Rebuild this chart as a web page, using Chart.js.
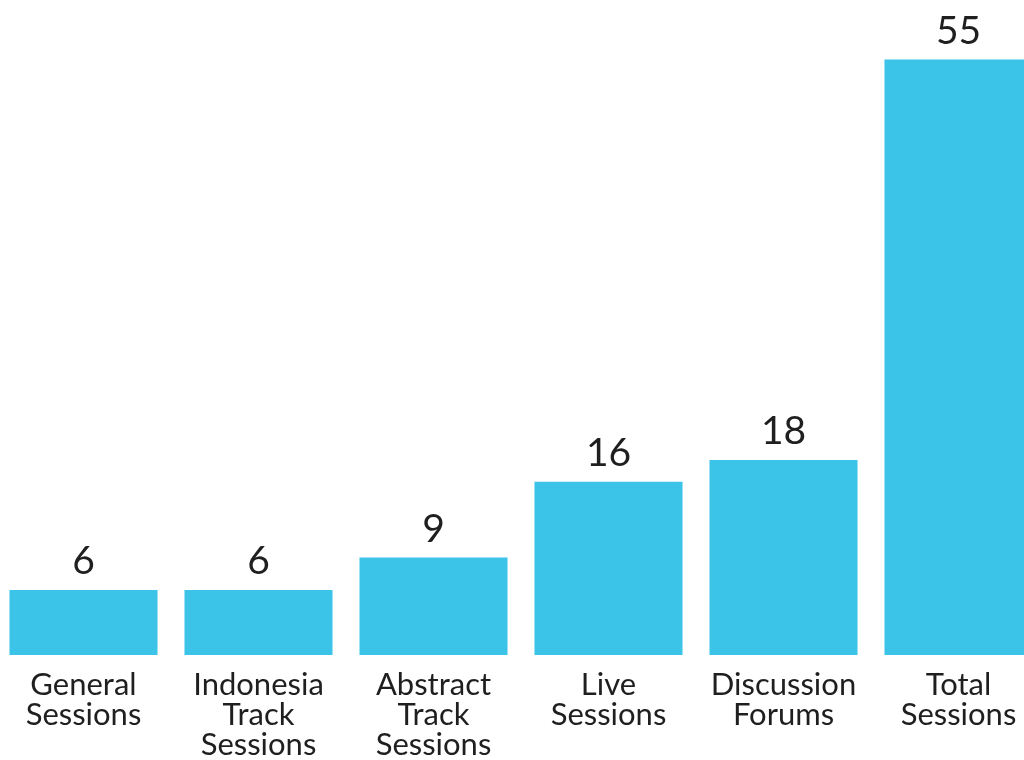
<!DOCTYPE html>
<html>
<head>
<meta charset="utf-8">
<script src="https://cdn.jsdelivr.net/npm/chart.js@4"></script>
<style>
  html, body { margin: 0; padding: 0; background: #ffffff; overflow: hidden; width: 1024px; height: 760px; }
  #wrap { position: absolute; left: -4px; top: 0; width: 1050px; height: 760px; }
</style>
</head>
<body>
<div id="wrap"><canvas id="c" width="1050" height="760"></canvas></div>
<script>
const categories = [
  ["General", "Sessions"],
  ["Indonesia", "Track", "Sessions"],
  ["Abstract", "Track", "Sessions"],
  ["Live", "Sessions"],
  ["Discussion", "Forums"],
  ["Total", "Sessions"]
];
const sessionCounts = [6, 6, 9, 16, 18, 55];

const valueLabels = {
  id: 'valueLabels',
  afterDatasetsDraw(chart) {
    const ctx = chart.ctx;
    const meta = chart.getDatasetMeta(0);
    ctx.save();
    ctx.font = '39px Lato, "Open Sans", sans-serif';
    ctx.fillStyle = '#1f1f1f';
    ctx.textAlign = 'center';
    ctx.textBaseline = 'alphabetic';
    meta.data.forEach((bar, i) => {
      ctx.fillText(String(chart.data.datasets[0].data[i]), bar.x, bar.y - 16);
    });
    ctx.restore();
  }
};

new Chart(document.getElementById('c'), {
  type: 'bar',
  data: {
    labels: categories,
    datasets: [{
      data: sessionCounts,
      backgroundColor: '#3BC4E8',
      borderWidth: 0,
      barPercentage: 0.846,
      categoryPercentage: 1.0
    }]
  },
  options: {
    responsive: false,
    animation: false,
    layout: { padding: 0 },
    plugins: { legend: { display: false }, tooltip: { enabled: false } },
    scales: {
      y: { display: false, min: 0, max: 60.5 },
      x: {
        grid: { display: false },
        border: { display: false },
        ticks: {
          color: '#1f1f1f',
          padding: 7,
          maxRotation: 0,
          autoSkip: false,
          font: { family: 'Lato, "Open Sans", sans-serif', size: 31, lineHeight: 0.97 }
        },
        afterFit(scale) { scale.height = 105; }
      }
    }
  },
  plugins: [valueLabels]
});
</script>
</body>
</html>
